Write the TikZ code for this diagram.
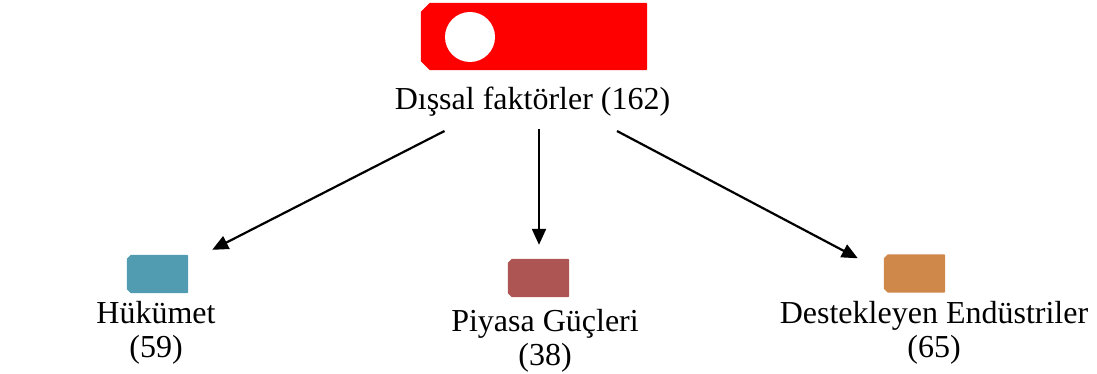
\documentclass[tikz,border=0pt]{standalone}
\usepackage{fontspec}
\setmainfont{Liberation Serif}
\usetikzlibrary{arrows.meta}
\definecolor{hred}{HTML}{FF0000}
\definecolor{hblue}{HTML}{519CB0}
\definecolor{hbrown}{HTML}{AD5552}
\definecolor{horange}{HTML}{D0874A}
\tikzset{
  tag/.style={rectangle, inner sep=0pt, minimum width=61pt, minimum height=38pt},
  lbl/.style={font=\fontsize{32}{34}\selectfont, align=center, inner sep=0pt, anchor=base},
  arr/.style={-{Triangle[length=16pt,width=14pt]}, line width=2.2pt, black}
}
\newcommand{\chamfill}[3]{% color, node, chamfer
  \fill[#1] ([xshift=#3]#2.north west) -- ([xshift=-1pt]#2.north east) -- ([yshift=-1pt]#2.north east)
    -- ([yshift=1pt]#2.south east) -- ([xshift=-1pt]#2.south east)
    -- ([xshift=#3]#2.south west) -- ([yshift=#3]#2.south west)
    -- ([yshift=-#3]#2.north west) -- cycle;}
\begin{document}
\begin{tikzpicture}[x=1pt,y=-1pt]
\useasboundingbox (0,0) rectangle (1097,374);
% top red tag
\node[tag, minimum width=226pt, minimum height=67pt] (topbox) at (534,36.5) {};
\chamfill{hred}{topbox}{9pt}
\node[circle, fill=white, minimum size=50pt, inner sep=0pt] (dot) at (470,37) {};
\node[lbl] (top) at (532.5,110) {Dışsal faktörler (162)};
% children
\node[tag] (blue) at (157.5,274) {};
\chamfill{hblue}{blue}{4pt}
\node[lbl] (huk) at (156,357) {Hükümet\\(59)};
\node[tag] (brown) at (538.5,278) {};
\chamfill{hbrown}{brown}{4pt}
\node[lbl] (piy) at (545,365) {Piyasa Güçleri\\(38)};
\node[tag] (orange) at (914.5,273.5) {};
\chamfill{horange}{orange}{4pt}
\node[lbl] (des) at (934,357) {Destekleyen Endüstriler\\(65)};
% arrows
\draw[arr] ([xshift=-88pt,yshift=-14pt]top.south) -- ([xshift=24pt,yshift=5pt]blue.north east);
\draw[arr] ([xshift=6.5pt,yshift=-12pt]top.south) -- ([xshift=0.5pt,yshift=14pt]brown.north);
\draw[arr] ([xshift=84.5pt,yshift=-14pt]top.south) -- ([xshift=-26pt,yshift=-4pt]orange.north west);
\end{tikzpicture}
\end{document}
